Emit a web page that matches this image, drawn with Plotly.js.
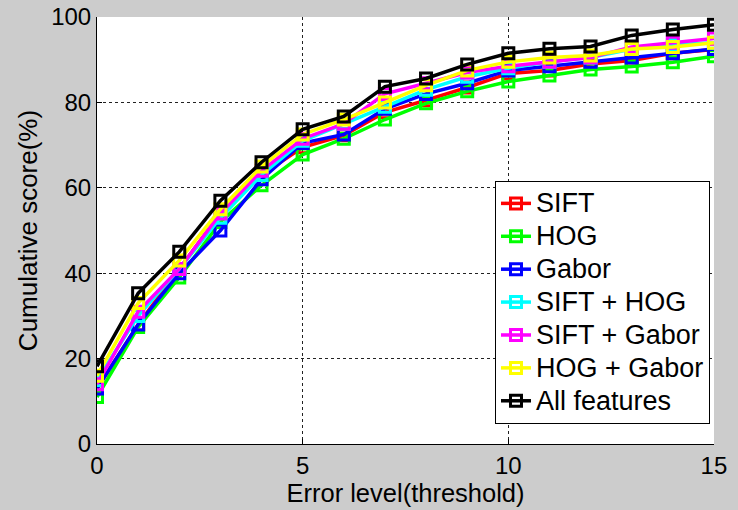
<!DOCTYPE html>
<html>
<head>
<meta charset="utf-8">
<script src="https://cdn.plot.ly/plotly-3.0.1.min.js"></script>
<style>html,body{margin:0;padding:0;background:#cccccc;}</style>
</head>
<body>
<div id="chart" style="width:738px;height:510px;"></div>
<script>
const errorLevels = [0,1,2,3,4,5,6,7,8,9,10,11,12,13,14,15];
const seriesNames = ["SIFT","HOG","Gabor","SIFT + HOG","SIFT + Gabor","HOG + Gabor","All features"];
const sift      = [13, 28, 41, 54, 63, 69.5, 72.3, 77.7, 80.5, 83.5, 86.8, 87.5, 89, 89.8, 91.5, 92.4];
const hog       = [11, 27.4, 39, 52, 60.6, 67.8, 71.5, 76, 79.8, 82.6, 84.9, 86.3, 87.7, 88.4, 89.4, 90.8];
const gabor     = [13, 28, 40, 50, 62, 70.5, 72.5, 78.5, 82, 84.5, 87.5, 88.5, 89.5, 90.5, 91.5, 92.5];
const siftHog   = [15, 30, 41, 53, 63, 71, 75, 79, 83, 86, 88, 89.5, 90.5, 92.5, 93.5, 94];
const siftGabor = [14, 31, 41, 54, 64, 71.5, 75, 82, 84.5, 87, 88.5, 89.5, 90.5, 93, 94, 95];
const hogGabor  = [16, 33, 43, 55, 65, 72.5, 76, 80, 84, 87.5, 89.5, 90.5, 91, 92.5, 93, 94];
const allFeat   = [18.2, 35.3, 45, 57, 66, 73.7, 76.7, 83.7, 85.6, 88.9, 91.5, 92.6, 93.1, 95.7, 97.1, 98.2];
const xTicks = [0,5,10,15];
const yTicks = [0,20,40,60,80,100];

const allSeries = [sift, hog, gabor, siftHog, siftGabor, hogGabor, allFeat];
const colors = ["#ff0000","#00ff00","#0000ff","#00ffff","#ff00ff","#ffff00","#000000"];

const traces = allSeries.map((ys, i) => ({
  x: errorLevels,
  y: ys,
  name: '<span style="font-size:27px">' + seriesNames[i] + '</span>',
  type: "scatter",
  mode: "lines+markers",
  legendgroup: "g" + i,
  line: {color: colors[i], width: 3.5},
  marker: {symbol: "square-open", size: 11, color: colors[i], line: {width: 3, color: colors[i]}}
}));

const layout = {
  width: 738, height: 510,
  paper_bgcolor: "#cccccc",
  plot_bgcolor: "#ffffff",
  margin: {l: 97, r: 24, t: 17, b: 66},
  font: {family: "Liberation Sans, Arial, sans-serif", color: "#000", size: 24},
  showlegend: true,
  legend: {
    x: 0.9935, y: 0.047, xanchor: "right", yanchor: "bottom",
    bgcolor: "#ffffff", bordercolor: "#000", borderwidth: 1,
    font: {size: 23, color: "#000"},
    traceorder: "grouped", tracegroupgap: 0,
    itemwidth: 30
  },
  xaxis: {
    range: [0, 15.001], tickvals: xTicks, ticktext: xTicks.map(String),
    showgrid: true, gridcolor: "#222", griddash: "dot", gridwidth: 1,
    zeroline: false, showline: true, linecolor: "#000", linewidth: 1,
    ticks: "inside", ticklen: 5, tickcolor: "#000",
    tickfont: {size: 24},
    title: {text: "Error level(threshold)", font: {size: 25.5}, standoff: 0}
  },
  yaxis: {
    range: [0, 100.01], tickvals: yTicks, ticktext: yTicks.map(String),
    showgrid: true, gridcolor: "#222", griddash: "dot", gridwidth: 1,
    zeroline: false, showline: true, linecolor: "#000", linewidth: 1,
    ticks: "inside", ticklen: 5, tickcolor: "#000",
    tickfont: {size: 24},
    title: {text: "Cumulative score(%)", font: {size: 26}, standoff: 6}
  }
};

Plotly.newPlot("chart", traces, layout, {displayModeBar: false, staticPlot: true});
</script>
</body>
</html>
